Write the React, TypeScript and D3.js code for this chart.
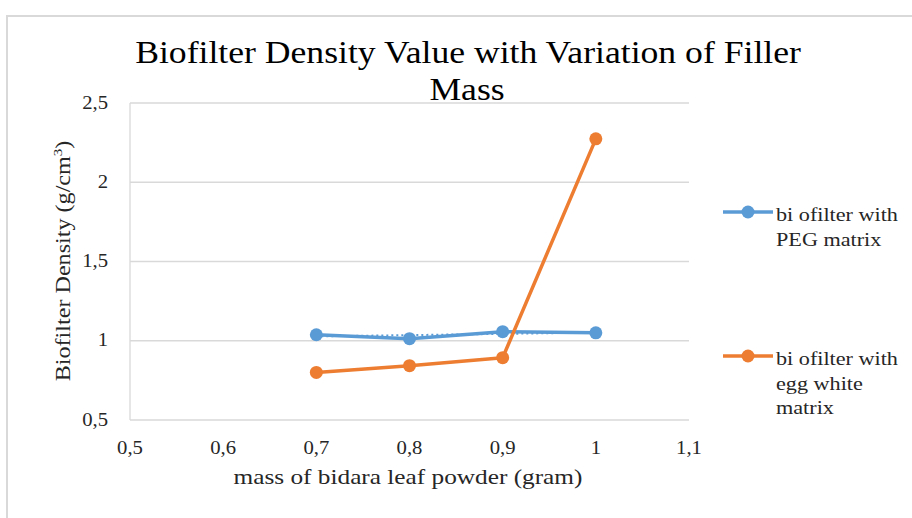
import React from "react";
import * as d3 from "d3";

const massValues = [0.7, 0.8, 0.9, 1.0];
const pegDensity = [1.038, 1.013, 1.057, 1.05];
const eggDensity = [0.8, 0.843, 0.893, 2.274];
const xTicks = [0.5, 0.6, 0.7, 0.8, 0.9, 1.0, 1.1];
const yTicks = [0.5, 1, 1.5, 2, 2.5];
const seriesNames = ["biofilter with PEG matrix", "biofilter with egg white matrix"];
const legendLines = [["bi ofilter with", "PEG matrix"], ["bi ofilter with", "egg white", "matrix"]];
const colors = ["#5b9bd5", "#ed7d31"];

const W = 912, H = 518;
const plot = { left: 130, right: 689, top: 103, bottom: 420 };
const FONT = "'Liberation Serif', 'Times New Roman', serif";
const SX = 1.15;

const fmt = (v: number) => String(+v.toFixed(1)).replace(".", ",");

function T({ x, y, size, anchor = "start", rotate = 0, fill = "#000", children }: any) {
  return (
    <g transform={`translate(${x},${y}) rotate(${rotate}) scale(${SX},1)`}>
      <text x={0} y={0} fontSize={size} textAnchor={anchor} fill={fill}>{children}</text>
    </g>
  );
}

export default function App() {
  const x = d3.scaleLinear().domain([0.5, 1.1]).range([plot.left, plot.right]);
  const y = d3.scaleLinear().domain([0.5, 2.5]).range([plot.bottom, plot.top]);
  const line = d3.line<[number, number]>().x(d => x(d[0])).y(d => y(d[1]));
  const series = [pegDensity, eggDensity].map(vals => massValues.map((m, i) => [m, vals[i]] as [number, number]));

  const mx = d3.mean(massValues)!;
  const my = d3.mean(pegDensity)!;
  const slope = d3.sum(massValues.map((m, i) => (m - mx) * (pegDensity[i] - my))) / d3.sum(massValues.map(m => (m - mx) ** 2));
  const trend: [number, number][] = [massValues[0], massValues[massValues.length - 1]].map(m => [m, my + slope * (m - mx)]);

  return (
    <svg width={W} height={H} style={{ position: "absolute", left: 0, top: 0, background: "#fff" }} fontFamily={FONT}>
      <rect x={0} y={0} width={W} height={H} fill="#fff" />
      <rect x={7} y={16} width={W + 10} height={H + 10} fill="none" stroke="#d9d9d9" strokeWidth={2} />
      <T x={468} y={63} size={31} anchor="middle">Biofilter Density Value with Variation of Filler</T>
      <T x={467} y={100} size={31} anchor="middle">Mass</T>
      {yTicks.map(t => (
        <g key={t}>
          <line x1={plot.left} x2={plot.right} y1={y(t)} y2={y(t)} stroke="#d9d9d9" strokeWidth={1.3} />
          <T x={108} y={y(t) + 5.5} size={18} anchor="end" fill="#262626">{fmt(t)}</T>
        </g>
      ))}
      <line x1={plot.left} x2={plot.left} y1={plot.top} y2={plot.bottom} stroke="#d9d9d9" strokeWidth={1.3} />
      {xTicks.map(t => (
        <T key={t} x={x(t)} y={454} size={18} anchor="middle" fill="#262626">{fmt(t)}</T>
      ))}
      <T x={408} y={484} size={22} anchor="middle" fill="#262626">mass of bidara leaf powder (gram)</T>
      <T x={70} y={261} size={21} anchor="middle" rotate={-90} fill="#262626">
        Biofilter Density  (g/cm<tspan fontSize={13} dy={-8}>3</tspan><tspan dy={8}>)</tspan>
      </T>
      <path d={line(trend)!} fill="none" stroke={colors[0]} strokeWidth={2} strokeDasharray="2 3" />
      {series.map((s, si) => (
        <g key={si}>
          <path d={line(s)!} fill="none" stroke={colors[si]} strokeWidth={3.5} strokeLinejoin="round" />
          {s.map((p, i) => (
            <circle key={i} cx={x(p[0])} cy={y(p[1])} r={6.5} fill={colors[si]} />
          ))}
        </g>
      ))}
      {legendLines.map((lines, li) => {
        const ly = li === 0 ? 212 : 356;
        return (
          <g key={li}>
            <title>{seriesNames[li]}</title>
            <line x1={723} x2={773} y1={ly} y2={ly} stroke={colors[li]} strokeWidth={3.5} />
            <circle cx={748} cy={ly} r={6.5} fill={colors[li]} />
            {lines.map((t, k) => (
              <T key={k} x={776} y={ly + 9 + k * 24.5} size={19.3} fill="#262626">{t}</T>
            ))}
          </g>
        );
      })}
    </svg>
  );
}
